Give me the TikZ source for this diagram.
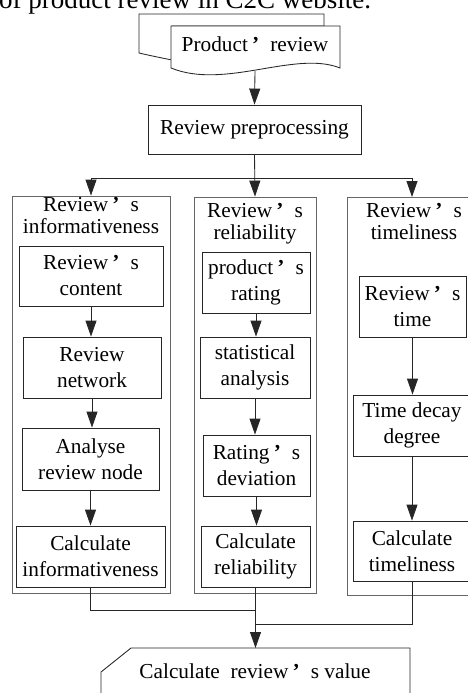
\documentclass[tikz,border=0pt]{standalone}
\usepackage{fontspec}
\setmainfont{Liberation Serif}
\usetikzlibrary{arrows.meta}
\newcommand\ap{\makebox[1.05em][l]{\hspace{0.2em}\textbf{’}}}
\begin{document}
\begin{tikzpicture}[x=1pt,y=-1pt,
  box/.style={draw=black!85, line width=0.85pt, fill=white, align=center, inner sep=0pt, font=\fontsize{21.3}{26}\selectfont},
  outer/.style={draw=black!60, line width=0.85pt, inner sep=0pt},
  title/.style={align=center, inner sep=0pt, anchor=north, font=\fontsize{21.3}{22}\selectfont},
  arr/.style={-{Triangle[length=16pt,width=11pt]}, line width=0.85pt, draw=black!85},
  ln/.style={line width=0.85pt, draw=black!85}]
\useasboundingbox (0,0) rectangle (468,693);
\clip (0,0) rectangle (468,693);
% caption (cut at top)
\node[anchor=base west, inner sep=0pt, font=\fontsize{27}{30}\selectfont] (cap) at (-1,9) {of product review in C2C website.};
% documents
\draw[ln, fill=white] (324,26) -- (324,14) -- (139,14) -- (139,53) .. controls (152,56) and (162,58) .. (172,60) -- (172,26) -- cycle;
\draw[ln, fill=white] (171,26) -- (340,26) -- (340,68) .. controls (295,50) and (225,90) .. (171,68) -- cycle;
\node[anchor=base, inner sep=0pt, font=\fontsize{21.3}{26}\selectfont] (prod) at (255,52) {Product\ap review};
\coordinate (docbot) at (255,71);
% preprocessing
\node[box, minimum width=213pt, minimum height=49pt] (pre) at (254.5,129.5) {Review preprocessing};
% outer boxes
\node[outer, minimum width=158pt, minimum height=397pt] (left) at (91,394.5) {};
\node[outer, minimum width=122pt, minimum height=396pt] (mid) at (255,395) {};
\node[outer, minimum width=133pt, minimum height=398pt] (right) at (413.5,396) {};
\node[title] (tleft) at (91,196.8) {Review\ap s\\informativeness};
\node[title] (tmid) at (255,203.6) {Review\ap s\\reliability};
\node[title] (tright) at (414,203.6) {Review\ap s\\timeliness};
% left column
\node[box, minimum width=144pt, minimum height=60pt] (content) at (91,276) {Review\ap s\\content};
\node[box, minimum width=138pt, minimum height=61pt] (network) at (92,367.5) {Review\\network};
\node[box, minimum width=137pt, minimum height=62pt] (analyse) at (90.5,459) {Analyse\\review node};
\node[box, minimum width=149pt, minimum height=61pt] (calcinfo) at (90.5,556.5) {Calculate\\informativeness};
% middle column
\node[box, minimum width=108pt, minimum height=61pt] (rating) at (256,282.5) {product\ap s\\rating};
\node[box, minimum width=110pt, minimum height=61pt] (stat) at (255,367.5) {statistical\\analysis};
\node[box, minimum width=107pt, minimum height=61pt] (dev) at (256.5,465.5) {Rating\ap s\\deviation};
\node[box, minimum width=109pt, minimum height=61pt] (calcrel) at (255.5,556.5) {Calculate\\reliability};
% right column
\node[box, minimum width=107pt, minimum height=61pt] (time) at (412.5,306.5) {Review\ap s\\time};
\node[box, minimum width=118pt, minimum height=61pt] (decay) at (412,425.5) {Time decay\\degree};
\node[box, minimum width=118pt, minimum height=60pt] (calctime) at (412,551) {Calculate\\timeliness};
% final
\draw[ln, fill=white] (101,700) -- (101,672) -- (131,648) -- (410,648) -- (410,700);
\node[anchor=base, inner sep=0pt, font=\fontsize{21.3}{26}\selectfont] (final) at (255,678) {Calculate\ \ review\ap s value};
\coordinate (finaltop) at (255.5,648);
% connectors
\draw[arr] (docbot) -- (pre.north);
\coordinate (hl) at (91,178);
\coordinate (hr) at (412,178);
\coordinate (rtop) at (412,197);
\draw[ln] (hl) -- (hr);
\draw[arr] (pre.south) -- (mid.north);
\draw[arr] (hl) -- (left.north);
\draw[arr] (hr) -- (rtop);
\draw[arr] (content.south) -- (content.south |- network.north);
\draw[arr] (network.south) -- (network.south |- analyse.north);
\draw[arr] (analyse.south) -- (analyse.south |- calcinfo.north);
\draw[arr] (rating.south) -- (rating.south |- stat.north);
\draw[arr] (stat.south) -- (stat.south |- dev.north);
\draw[arr] (dev.south) -- (dev.south |- calcrel.north);
\draw[arr] (time.south) -- (time.south |- decay.north);
\draw[arr] (decay.south) -- (decay.south |- calctime.north);
\coordinate (jl) at (90.5,610);
\coordinate (jr) at (412,624);
\draw[ln] (calcinfo.south) -- (jl) -- (255.5,610);
\draw[ln] (calctime.south) -- (jr) -- (255.5,624);
\draw[arr] (calcrel.south) -- (finaltop);
\end{tikzpicture}
\end{document}
